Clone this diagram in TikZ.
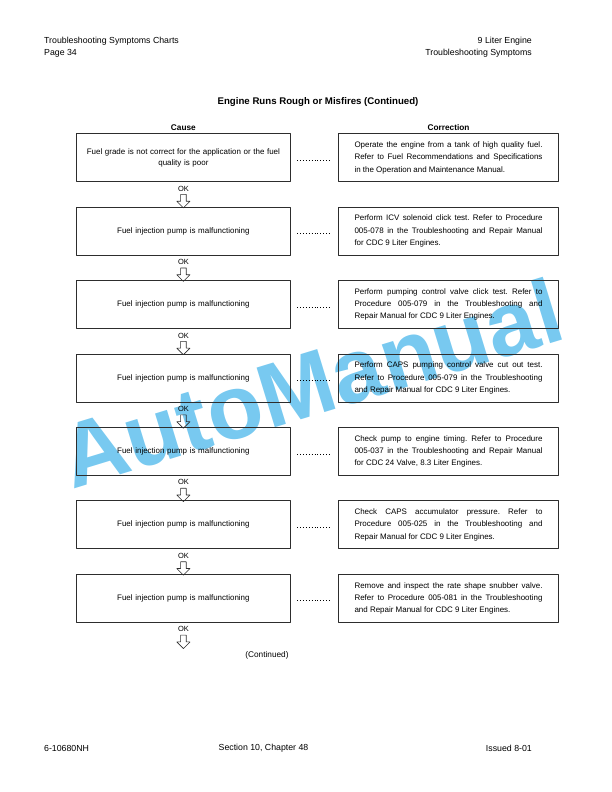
\documentclass[tikz,border=0pt]{standalone}
\usepackage{fontspec}
\setmainfont{Liberation Sans}
\usepackage{tikz}
\usetikzlibrary{shapes,arrows,positioning,calc}
\definecolor{wmblue}{RGB}{120,201,240}
\definecolor{boxline}{RGB}{45,45,45}
\newcommand{\bodysize}{\fontsize{8}{12.4}\selectfont}

\begin{document}
\frenchspacing
\begin{tikzpicture}[>=latex',line join=bevel,
  causebox/.style={draw=boxline,line width=0.9pt,minimum width=213.3bp,minimum height=48bp,
    text width=205bp,align=center,inner sep=0pt,font=\fontsize{8}{10.8}\selectfont},
  fixbox/.style={draw=boxline,line width=0.9pt,minimum width=220bp,minimum height=48bp,
    text width=188bp,align=justify,inner sep=0pt,font=\bodysize},
  oklabel/.style={inner sep=0pt,font=\fontsize{7.5}{8}\selectfont},
  okarrow/.style={draw=boxline,line width=0.6pt,single arrow,shape border rotate=270,
    minimum width=12.7bp,minimum height=13.4bp,inner sep=2.5bp,
    single arrow head extend=3.85bp,single arrow head indent=0pt},
  leader/.style={line width=0.7pt,dash pattern=on 0.6pt off 2.3pt,shorten <=6.7bp,shorten >=6.8bp},
  pagetext/.style={inner sep=0pt,font=\fontsize{8.8}{10}\selectfont},
  heading/.style={inner sep=0pt,font=\fontsize{8.3}{10}\selectfont\bfseries},
]
\useasboundingbox (0bp,0bp) rectangle (612bp,-792bp);
%% watermark
\node (wm) at (72bp,-490bp) [anchor=base west,rotate=17,inner sep=0pt,text=wmblue,
  font=\fontsize{91}{91}\selectfont\bfseries] {AutoManual};
%% page head and foot
\node (hd1) at (44bp,-41bp) [pagetext,anchor=west] {Troubleshooting Symptoms Charts};
\node (hd2) at (44bp,-53bp) [pagetext,anchor=west] {Page 34};
\node (hd3) at (532bp,-41bp) [pagetext,anchor=east] {9 Liter Engine};
\node (hd4) at (532bp,-53bp) [pagetext,anchor=east] {Troubleshooting Symptoms};
\node (ft1) at (44bp,-748bp) [pagetext,anchor=west] {6-10680NH};
\node (ft2) at (263.5bp,-748bp) [pagetext] {Section 10, Chapter 48};
\node (ft3) at (532bp,-748bp) [pagetext,anchor=east] {Issued 8-01};
%% title
\node (title) at (318bp,-102bp) [inner sep=0pt,font=\fontsize{9.7}{11}\selectfont\bfseries]
  {Engine Runs Rough or Misfires (Continued)};
\node (cause) at (183.4bp,-128bp) [heading] {Cause};
\node (corr) at (448.5bp,-128bp) [heading] {Correction};
%% cause column
\node (c1) at (183.4bp,-157.6bp) [causebox] {Fuel grade is not correct for the application or the fuel\\quality is poor};
\node (c2) at (183.4bp,-231.1bp) [causebox] {Fuel injection pump is malfunctioning};
\node (c3) at (183.4bp,-304.5bp) [causebox] {Fuel injection pump is malfunctioning};
\node (c4) at (183.4bp,-378.0bp) [causebox] {Fuel injection pump is malfunctioning};
\node (c5) at (183.4bp,-451.4bp) [causebox] {Fuel injection pump is malfunctioning};
\node (c6) at (183.4bp,-524.9bp) [causebox] {Fuel injection pump is malfunctioning};
\node (c7) at (183.4bp,-598.3bp) [causebox] {Fuel injection pump is malfunctioning};
%% correction column
\node (f1) at (448.5bp,-157.6bp) [fixbox] {Operate the engine from a tank of high quality fuel.\linebreak
  Refer to Fuel Recommendations and Specifications\linebreak in the Operation and Maintenance Manual.};
\node (f2) at (448.5bp,-231.1bp) [fixbox] {Perform ICV solenoid click test. Refer to Procedure\linebreak
  005-078 in the Troubleshooting and Repair Manual\linebreak for CDC 9 Liter Engines.};
\node (f3) at (448.5bp,-304.5bp) [fixbox] {Perform pumping control valve click test. Refer to\linebreak
  Procedure 005-079 in the Troubleshooting and\linebreak Repair Manual for CDC 9 Liter Engines.};
\node (f4) at (448.5bp,-378.0bp) [fixbox] {Perform CAPS pumping control valve cut out test.\linebreak
  Refer to Procedure 005-079 in the Troubleshooting\linebreak and Repair Manual for CDC 9 Liter Engines.};
\node (f5) at (448.5bp,-451.4bp) [fixbox] {Check pump to engine timing. Refer to Procedure\linebreak
  005-037 in the Troubleshooting and Repair Manual\linebreak for CDC 24 Valve, 8.3 Liter Engines.};
\node (f6) at (448.5bp,-524.9bp) [fixbox] {Check CAPS accumulator pressure. Refer to\linebreak
  Procedure 005-025 in the Troubleshooting and\linebreak Repair Manual for CDC 9 Liter Engines.};
\node (f7) at (448.5bp,-598.3bp) [fixbox] {Remove and inspect the rate shape snubber valve.\linebreak
  Refer to Procedure 005-081 in the Troubleshooting\linebreak and Repair Manual for CDC 9 Liter Engines.};
%% leaders and OK arrows
\foreach \i in {1,...,7} {
  \draw [leader] ([yshift=-2.5bp]c\i.east) -- ([yshift=-2.5bp]f\i.west);
  \node (ok\i) at ([yshift=-6.5bp]c\i.south) [oklabel] {OK};
  \node (a\i) at ([yshift=-17.7bp]c\i.south) [okarrow] {};
}
\node (cont) at (267bp,-655bp) [inner sep=0pt,font=\fontsize{8.3}{10}\selectfont] {(Continued)};
%
\end{tikzpicture}
\end{document}
